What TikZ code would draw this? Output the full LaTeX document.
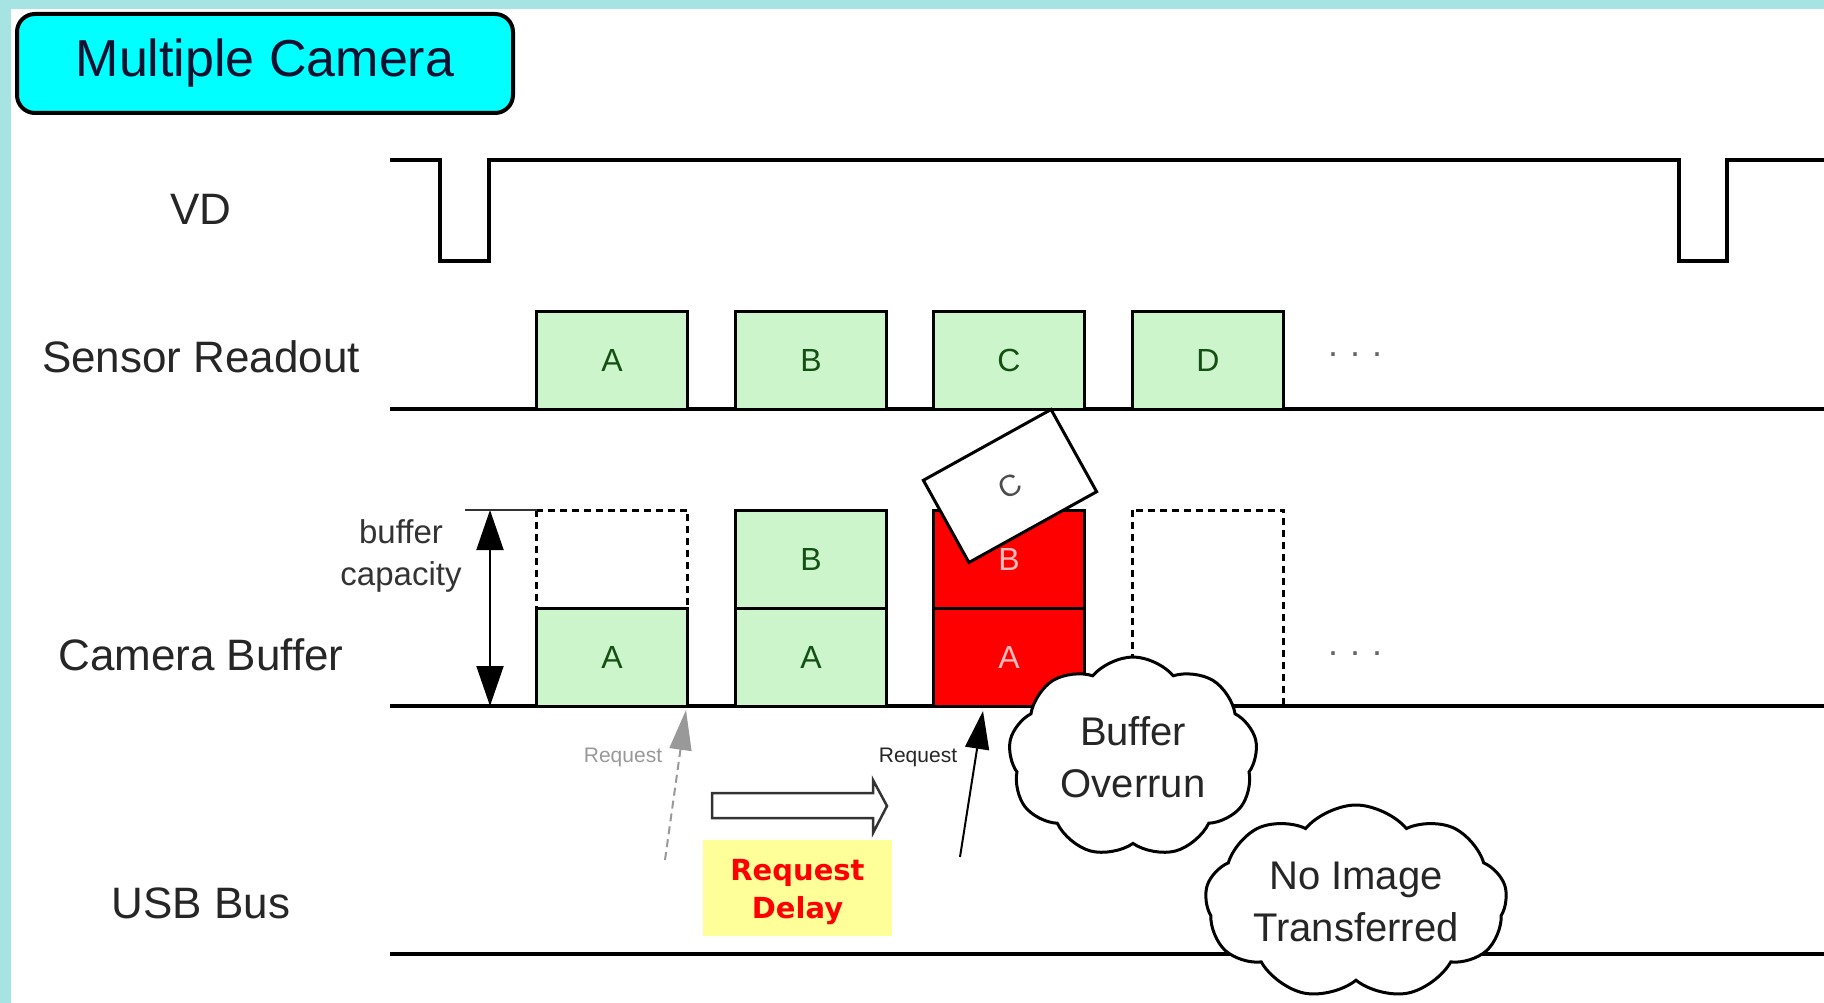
\documentclass[tikz,border=0pt]{standalone}
\usepackage{fontspec}
\setmainfont{Liberation Sans}
\newfontfamily\dvb{DejaVu Sans}
\usetikzlibrary{arrows.meta,shapes.symbols}
\definecolor{frameteal}{RGB}{166,227,227}
\definecolor{boxgreen}{RGB}{204,245,204}
\definecolor{lettergreen}{RGB}{20,80,20}
\definecolor{titlecyan}{RGB}{0,255,255}
\definecolor{delayyellow}{RGB}{255,255,153}
\definecolor{overred}{RGB}{255,0,0}
\definecolor{paletext}{RGB}{255,190,190}
\definecolor{titletext}{RGB}{16,16,48}
\tikzset{
  lbl/.style={font=\fontsize{44}{50}\selectfont, text=black!85, inner sep=0pt},
  gbox/.style={draw, line width=3pt, fill=boxgreen, minimum width=151pt, minimum height=98pt,
    inner sep=0pt, outer sep=0pt, text=lettergreen, font=\fontsize{32}{38}\selectfont},
  rbox/.style={gbox, fill=overred, text=paletext},
  dbox/.style={draw, line width=3pt, dash pattern=on 7pt off 5pt},
  axisline/.style={line width=4pt},
  callout/.style={cloud, cloud puffs=9, cloud puff arc=100, cloud ignores aspect, draw, line width=3pt, fill=white,
    align=center, font=\fontsize{40}{52}\selectfont, text=black!85, inner sep=0pt},
  reqlbl/.style={font=\fontsize{21}{24}\selectfont, inner sep=0pt},
  dots/.style={font=\fontsize{36}{40}\selectfont, text=black!60, inner sep=0pt},
}
\begin{document}
\begin{tikzpicture}[x=1pt,y=-1pt]
\useasboundingbox (0,0) rectangle (1824,1003);
% frame
\fill[frameteal] (0,0) rectangle (1824,1003);
\fill[white] (11,9) rectangle (1824,1003);
% title
\node[draw, line width=4pt, rounded corners=18pt, fill=titlecyan, minimum width=496pt, minimum height=99pt,
  font=\fontsize{52}{60}\selectfont, text=titletext] (title) at (265,63.5) {Multiple Camera};
% row labels
\node[lbl] (lvd) at (201,209) {VD};
\node[lbl] (lsr) at (201,357) {Sensor Readout};
\node[lbl] (lcb) at (201,655) {Camera Buffer};
\node[lbl] (lusb) at (201,903) {USB Bus};
% lines
\draw[axisline] (390,160) -- (440,160) -- (440,261) -- (489,261) -- (489,160) -- (1679,160)
  -- (1679,261) -- (1727,261) -- (1727,160) -- (1824,160);
\draw[axisline] (390,409) -- (1824,409);
\draw[axisline] (390,706) -- (1824,706);
\draw[axisline] (390,954) -- (1824,954);
% sensor readout boxes
\node[gbox] (sA) at (612,360) {A};
\node[gbox] (sB) at (811,360) {B};
\node[gbox] (sC) at (1009,360) {C};
\node[gbox] (sD) at (1208,360) {D};
\node[dots] (dots1) at (1355,355) {.\,\,.\,\,.};
% camera buffer
\draw[dbox] (536.5,510) rectangle (687.5,608);
\node[gbox] (bA1) at (612,657) {A};
\node[gbox] (bB2) at (811,559) {B};
\node[gbox] (bA2) at (811,657) {A};
\node[rbox] (bB3) at (1009,559) {B};
\node[rbox] (bA3) at (1009,657) {A};
\draw[dbox] (1132.5,510) rectangle (1283.5,706);
\node[dots] (dots2) at (1355,654) {.\,\,.\,\,.};
% buffer capacity
\coordinate (capL) at (465,510);
\coordinate (capR) at (537,510);
\coordinate (capTop) at (490,510);
\coordinate (capBot) at (490,706);
\draw[line width=2pt, black!80] (capL) -- (capR);
\draw[line width=2pt, {Triangle[length=40pt,width=27pt]}-{Triangle[length=40pt,width=27pt]}] (capTop) -- (capBot);
\node[font=\fontsize{33}{42}\selectfont, align=center, text=black!80, inner sep=0pt] (cap) at (401,556) {buffer\\capacity};
% tilted C
\node[draw, line width=3pt, fill=white, rotate=29, minimum width=146pt, minimum height=94pt,
  text=black!70, font=\fontsize{30}{34}\selectfont] (tC) at (1010,486) {C};
% request arrows
\coordinate (r1s) at (665,860);
\coordinate (r1e) at (686,710);
\draw[black!40, line width=2pt, dash pattern=on 8pt off 5pt, -{Triangle[length=40pt,width=22pt]}] (r1s) -- (r1e);
\node[reqlbl, text=black!40] (rq1) at (623,757) {Request};
\coordinate (r2s) at (960,857);
\coordinate (r2e) at (983,711);
\draw[black, line width=2pt, -{Triangle[length=38pt,width=24pt]}] (r2s) -- (r2e);
\node[reqlbl, text=black!85] (rq2) at (918,757) {Request};
% hollow arrow
\draw[line width=2.5pt, black!80, fill=white] (712,793) -- (873,793) -- (873,780) -- (887,806)
  -- (873,833) -- (873,818) -- (712,818) -- cycle;
% request delay
\node[fill=delayyellow, minimum width=189pt, minimum height=96pt, text=overred,
  font=\dvb\bfseries\fontsize{29}{38}\selectfont] (delay) at (797.5,888) {};
\node[text=overred, font=\dvb\bfseries\fontsize{29}{38}\selectfont, align=center, inner sep=0pt]
  (delaytext) at (797.5,892) {Request\\Delay};
% clouds
\node[callout, minimum width=249pt, minimum height=200pt] (bo) at (1133,757) {Buffer\\Overrun};
\node[callout, minimum width=302pt, minimum height=194pt] (ni) at (1356,902) {No Image\\Transferred};
\end{tikzpicture}
\end{document}
